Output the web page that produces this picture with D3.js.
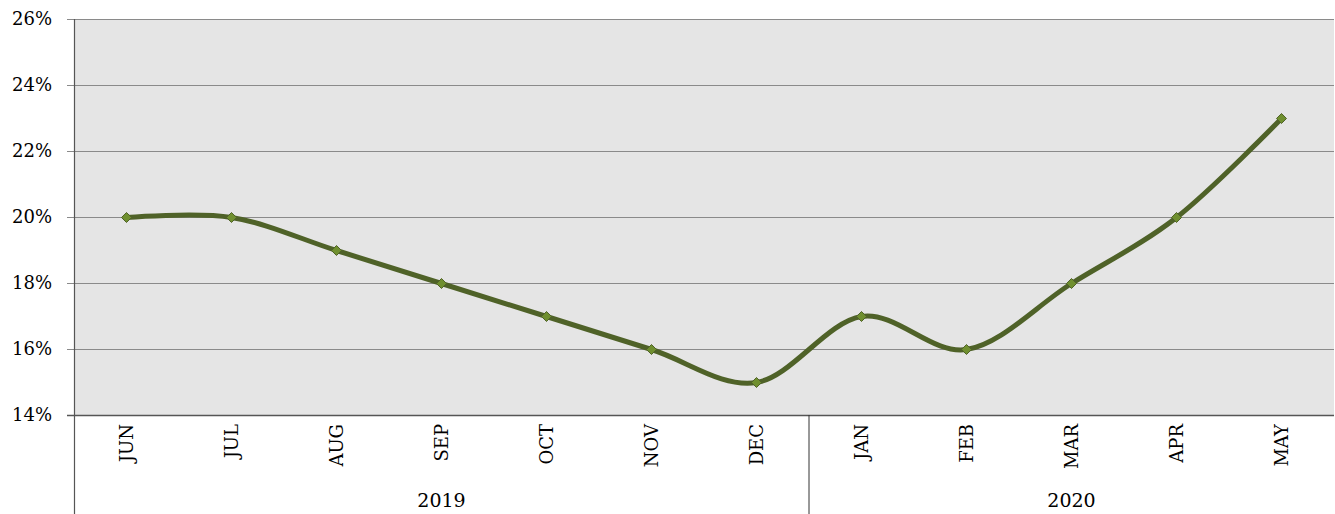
<!DOCTYPE html>
<html>
<head>
<meta charset="utf-8">
<script src="https://cdn.jsdelivr.net/npm/d3@7"></script>
<style>
  body { margin: 0; background: #fff; }
  text { font-family: "Palatino Linotype", "Book Antiqua", "DejaVu Serif", serif; fill: #000; }
</style>
</head>
<body>
<div id="chart"></div>
<script>
// data
const months = ["JUN", "JUL", "AUG", "SEP", "OCT", "NOV", "DEC", "JAN", "FEB", "MAR", "APR", "MAY"];
const years = ["2019", "2019", "2019", "2019", "2019", "2019", "2019", "2020", "2020", "2020", "2020", "2020"];
const values = [20, 20, 19, 18, 17, 16, 15, 17, 16, 18, 20, 23];
const yTicks = [14, 16, 18, 20, 22, 24, 26];

const W = 1335, H = 514;
const margin = {top: 19, right: 1, bottom: 99, left: 74};
const width = W - margin.left - margin.right,
    height = H - margin.top - margin.bottom;

const svg = d3.select("#chart").append("svg")
    .attr("width", W)
    .attr("height", H);

const g = svg.append("g")
    .attr("transform", "translate(" + margin.left + "," + margin.top + ")");

const x = d3.scaleBand().domain(d3.range(months.length)).range([0, width]);
const y = d3.scaleLinear().domain([14, 26]).range([height, 0]);

// plot background
g.append("rect")
    .attr("width", width)
    .attr("height", height)
    .attr("fill", "#e5e5e5");

// grid lines + y ticks
g.selectAll(".grid")
    .data(yTicks)
    .enter().append("line")
    .attr("x1", -7)
    .attr("x2", width)
    .attr("y1", d => y(d) + 0.5)
    .attr("y2", d => y(d) + 0.5)
    .attr("stroke", d => d === 14 ? "#555" : "#8a8a8a")
    .attr("stroke-width", d => d === 14 ? 1.5 : 1.2);

g.selectAll(".ylab")
    .data(yTicks)
    .enter().append("text")
    .attr("x", -22)
    .attr("y", d => y(d))
    .attr("dy", "0.35em")
    .attr("text-anchor", "end")
    .style("font-size", "18px")
    .text(d => d + "%");

// left axis line, extends down through the category area
g.append("line")
    .attr("x1", 0.5).attr("x2", 0.5)
    .attr("y1", 0).attr("y2", H - margin.top)
    .attr("stroke", "#555")
    .attr("stroke-width", 1.2);

// month labels
g.selectAll(".mlab")
    .data(months)
    .enter().append("text")
    .attr("transform", (d, i) => "translate(" + (x(i) + x.bandwidth() / 2) + "," + (height + 9) + ") rotate(-90)")
    .attr("text-anchor", "end")
    .attr("dy", "0.35em")
    .style("font-size", "18px")
    .text(d => d);

// year groups
const yearGroups = d3.groups(years.map((yr, i) => ({yr, i})), d => d.yr);
yearGroups.forEach(([yr, items], k) => {
    const x0 = x(items[0].i), x1 = x(items[items.length - 1].i) + x.bandwidth();
    g.append("text")
        .attr("x", (x0 + x1) / 2)
        .attr("y", H - margin.top - 7)
        .attr("text-anchor", "middle")
        .style("font-size", "19px")
        .text(yr);
    if (k > 0) {
        g.append("line")
            .attr("x1", x0).attr("x2", x0)
            .attr("y1", height).attr("y2", H - margin.top)
            .attr("stroke", "#333")
            .attr("stroke-width", 1);
    }
});

// smoothed line
const line = d3.line()
    .x((d, i) => x(i) + x.bandwidth() / 2)
    .y(d => y(d) + 0.5)
    .curve(d3.curveCatmullRom.alpha(0));

g.append("path")
    .datum(values)
    .attr("fill", "none")
    .attr("stroke", "#4f6228")
    .attr("stroke-width", 5)
    .attr("stroke-linejoin", "round")
    .attr("d", line);

// diamond markers
g.selectAll(".dot")
    .data(values)
    .enter().append("path")
    .attr("d", d3.symbol().type(d3.symbolDiamond2).size(64))
    .attr("transform", (d, i) => "translate(" + (x(i) + x.bandwidth() / 2) + "," + (y(d) + 0.5) + ")")
    .attr("fill", "#6f8f2f")
    .attr("stroke", "#4f6228")
    .attr("stroke-width", 1);
</script>
</body>
</html>
